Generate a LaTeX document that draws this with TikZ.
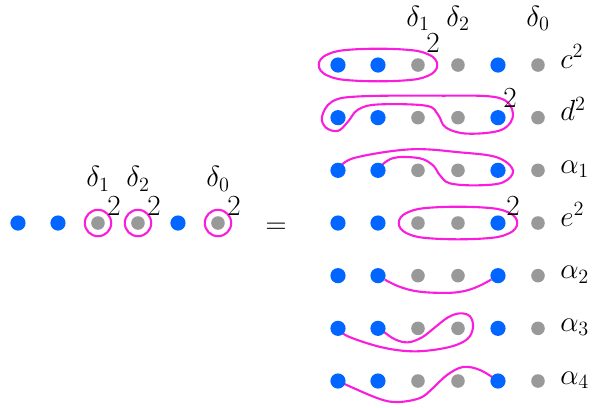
\documentclass[tikz,border=0pt]{standalone}
\usetikzlibrary{positioning,calc,backgrounds}
\definecolor{dotblue}{RGB}{0,102,255}
\definecolor{dotgray}{RGB}{153,153,153}
\definecolor{loopmag}{RGB}{250,30,220}

\begin{document}
\begin{tikzpicture}[
    bdot/.style={circle, fill=dotblue, inner sep=0pt, minimum size=0.38cm},
    gdot/.style={circle, fill=dotgray, inner sep=0pt, minimum size=0.34cm},
    ring/.style={circle, draw=loopmag, line width=1.5pt, inner sep=0pt,
                 minimum size=0.66cm},
    magline/.style={draw=loopmag, line width=1.5pt},
    lbl/.style={font=\huge, inner sep=0pt}
  ]
    \useasboundingbox (-8.45,1.625) rectangle (6.35,-8.55);
    % left row
    \foreach \j/\s in {1/bdot,2/bdot,3/gdot,4/gdot,5/bdot,6/gdot}
      \node[\s] (l-\j) at (\j-9,-3.95) {};
    \foreach \j/\k in {3/1,4/2,6/0} {
      \node[ring] (ring-\j) at (l-\j) {};
      \node[lbl] (ld-\j) at ($(l-\j)+(0,1.1)$) {$\delta_\k$};
      \node[lbl] (lt-\j) at ($(l-\j)+(0.4,0.43)$) {$2$};
    }
    \node[lbl] (eq) at (-1.55,-4.08) {$=$};
    % right rows
    \foreach \n/\r/\t in {c/1/c^2, d/2/d^2, a1/3/\alpha_1, e/4/e^2,
                          a2/5/\alpha_2, a3/6/\alpha_3, a4/7/\alpha_4} {
      \foreach \j/\s in {1/bdot,2/bdot,3/gdot,4/gdot,5/bdot,6/gdot}
        \node[\s] (\n-\j) at (\j-1,{-(\r-1)*1.3167}) {};
      \node[lbl, anchor=mid west] (t-\n) at ($(\n-6)+(0.55,0)$) {$\t$};
    }
    \foreach \j/\k in {3/1,4/2,6/0}
      \node[lbl] (rd-\j) at ($(c-\j)+(0,1.17)$) {$\delta_\k$};
    \node[lbl] (ct) at ($(c-3)+(0.375,0.55)$) {$2$};
    \node[lbl] (dt) at ($(d-5)+(0.3,0.5)$) {$2$};
    \node[lbl] (et) at ($(e-5)+(0.375,0.43)$) {$2$};
    % loops and arcs
    \begin{scope}[on background layer]
      \foreach \m in {c-2,e-4}
        \draw[magline, shift={(\m)}] plot[smooth cycle, tension=0.7]
          coordinates {(-1.48,0) (-1.25,0.27) (-0.6,0.39) (0.6,0.39)
            (1.25,0.27) (1.48,0) (1.25,-0.27) (0.6,-0.39) (-0.6,-0.39)
            (-1.25,-0.27)};
      \begin{scope}[shift={(d-1)}]
        \draw[magline] plot[smooth cycle, tension=0.6] coordinates {
          (-0.4,0.025) (-0.15,0.4) (0.5,0.53) (2.5,0.55) (4.0,0.5)
          (4.375,0.1) (4.1,-0.3) (3.25,-0.4) (2.7,-0.25) (2.5,0.075)
          (2.2,0.3) (1.0,0.33) (0.5,0.2) (0.25,-0.1) (0,-0.33)
          (-0.3,-0.25)};
      \end{scope}
      \begin{scope}[shift={(a1-1)}]
        \draw[magline] plot[smooth, tension=0.6] coordinates {
          (a1-1) (0.375,0.3) (1.8,0.525) (3.05,0.45) (3.975,0.325)
          (4.375,0) (4.125,-0.3) (3.475,-0.375) (2.8,-0.325) (2.55,-0.125)
          (2.375,0.125) (2.05,0.3) (1.475,0.325) (1.175,0.2) (a1-2)};
      \end{scope}
      \draw[magline] (a2-2) to[out=-30,in=180] ($(a2-1)+(2.7,-0.43)$)
        to[out=0,in=-150] (a2-5);
      \begin{scope}[shift={(a3-1)}]
        \draw[magline] plot[smooth, tension=0.6] coordinates {
          (a3-1) (0.25,-0.2) (1.1,-0.475) (1.925,-0.575) (2.75,-0.475)
          (3.225,-0.275) (3.375,0.025) (3.3,0.3) (3.05,0.375)
          (2.75,0.275) (2.425,0.025) (2.1,-0.225) (1.75,-0.35)
          (1.425,-0.275) (1.125,-0.075) (a3-2)};
      \end{scope}
      \begin{scope}[shift={(a4-1)}]
        \draw[magline] plot[smooth, tension=0.6] coordinates {
          (a4-1) (0.975,-0.425) (1.475,-0.525) (2.05,-0.425)
          (2.375,-0.175) (2.725,0.15) (3.125,0.35) (3.55,0.275) (a4-5)};
      \end{scope}
    \end{scope}
\end{tikzpicture}
\end{document}
